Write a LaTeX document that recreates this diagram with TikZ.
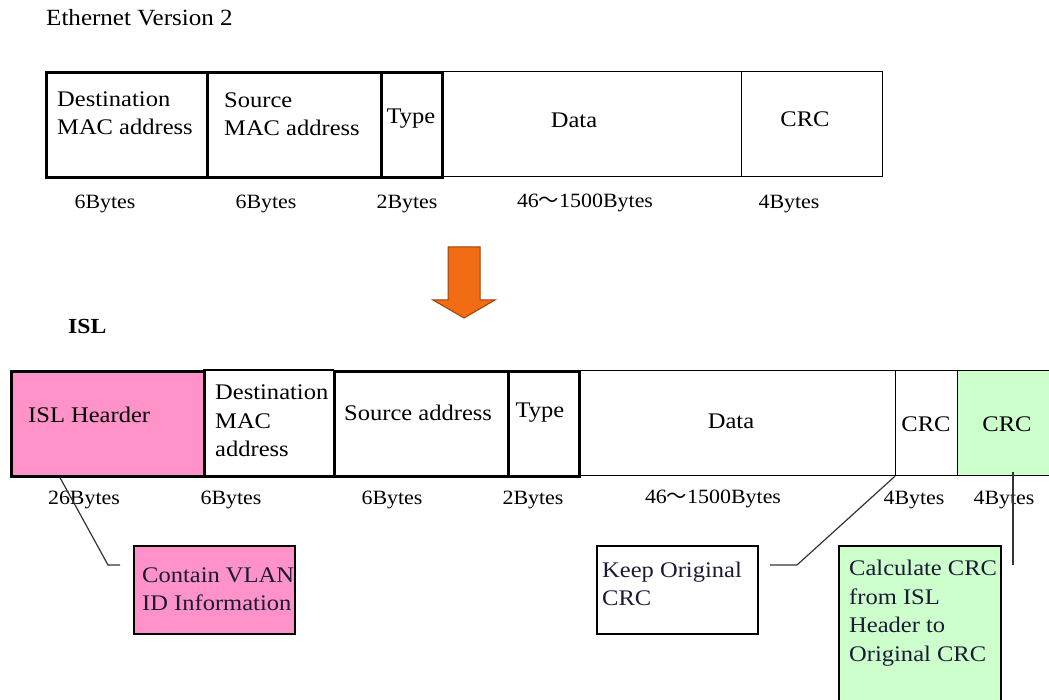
\documentclass[tikz,border=0pt]{standalone}
\usepackage{fontspec}
\setmainfont{Liberation Serif}[FakeStretch=1.1]
\newfontfamily\lblfont{Liberation Serif}[FakeStretch=1.08]
\newfontfamily\cjk{Noto Sans CJK SC}
\definecolor{islpink}{HTML}{FF92C9}
\definecolor{crcgreen}{HTML}{CCFFCC}
\definecolor{arroworange}{HTML}{F26C14}
\definecolor{arrowedge}{HTML}{9A4010}
\definecolor{calltext}{HTML}{1A1A33}
\tikzset{
  field/.style={draw, line width=1.2pt, anchor=north west, inner sep=0pt, minimum height=105pt},
  thickfield/.style={field, line width=2.6pt},
  txt/.style={inner sep=0pt, font=\fontsize{22.3}{28.5}\selectfont, align=left},
  lbl/.style={inner sep=0pt, font=\lblfont\fontsize{20.3}{24}\selectfont},
  callout/.style={draw, line width=1.5pt, anchor=north west, inner sep=0pt, minimum width=161pt, minimum height=88pt},
  lead/.style={line width=1.2pt, draw=black!80}
}
\begin{document}
\begin{tikzpicture}[x=1pt, y=-1pt]
\useasboundingbox (0,0) rectangle (1049,700);
\fill[white] (0,0) rectangle (1049,700);

% title
\node[inner sep=0pt, anchor=west, font=\lblfont\fontsize{23.2}{27}\selectfont] (title) at (46,18) {Ethernet Version 2};

% Ethernet frame
\node[field, minimum width=141pt] (ecrc) at (741,71) {};
\node[field, minimum width=300pt] (edata) at (441,71) {};
\node[thickfield, minimum width=161pt] (edst) at (45,71) {};
\node[thickfield, minimum width=174pt] (esrc) at (206,71) {};
\node[thickfield, minimum width=61pt] (etype) at (380,71) {};

\node[txt, anchor=west] (tdst) at (57,113) {Destination\\MAC address};
\node[txt, anchor=west] (tsrc) at (224,114) {Source\\MAC address};
\node[txt] (ttype) at (411,119) {Type};
\node[txt] (tdata) at (574,120) {Data};
\node[txt] (tcrc) at (805,119) {CRC};

\node[lbl] (l1) at (105,204) {6Bytes};
\node[lbl] (l2) at (266,204) {6Bytes};
\node[lbl] (l3) at (407,204) {2Bytes};
\node[lbl] (l4) at (585,203) {46{\cjk ～}1500Bytes};
\node[lbl] (l5) at (789,204) {4Bytes};

% arrow
\filldraw[fill=arroworange, draw=arrowedge, line width=1pt]
  (448,247) -- (480,247) -- (480,300) -- (495,300) -- (464,318) -- (433,300) -- (448,300) -- cycle;

% ISL
\node[inner sep=0pt, anchor=west, font=\fontsize{21.5}{26}\selectfont\bfseries] (isltitle) at (68,326) {ISL};

\node[field, minimum width=317pt] (idata) at (578,370) {};
\node[field, minimum width=62pt] (icrc1) at (895,370) {};
\node[field, fill=crcgreen, minimum width=100pt] (icrc2) at (957,370) {};
\node[field, minimum width=130pt] (idst) at (203,370) {};
\draw[line width=2.6pt] (idst.north west) -- (idst.north east);
\draw[line width=2.6pt] (idst.south west) -- (idst.south east);
\node[thickfield, fill=islpink, minimum width=193pt] (iisl) at (10,370) {};
\node[thickfield, minimum width=174pt] (isrc) at (333,370) {};
\node[thickfield, minimum width=71pt] (itype) at (507,370) {};

\node[txt, anchor=west] (tisl) at (28,415) {ISL Hearder};
\node[txt, anchor=west] (tidst) at (215,421) {Destination\\MAC\\address};
\node[txt, anchor=west] (tisrc) at (344,413) {Source address};
\node[txt] (titype) at (540,413) {Type};
\node[txt] (tidata) at (731,421) {Data};
\node[txt] (ticrc1) at (926,424) {CRC};
\node[txt] (ticrc2) at (1007,424) {CRC};

\node[lbl] (m1) at (84,500) {26Bytes};
\node[lbl] (m2) at (231,500) {6Bytes};
\node[lbl] (m3) at (392,500) {6Bytes};
\node[lbl] (m4) at (533,500) {2Bytes};
\node[lbl] (m5) at (713,499) {46{\cjk ～}1500Bytes};
\node[lbl] (m6) at (914,500) {4Bytes};
\node[lbl] (m7) at (1004,500) {4Bytes};

% callouts
\node[callout, fill=islpink] (cvlan) at (133,545) {};
\node[txt, anchor=west, text=calltext] (tvlan) at (142,589) {Contain VLAN\\ID Information};
\node[callout] (ckeep) at (596,545) {};
\node[txt, anchor=west, text=calltext] (tkeep) at (602,584) {Keep Original\\CRC};
\node[callout, fill=crcgreen, minimum width=162pt, minimum height=175pt] (ccalc) at (838,545) {};
\node[txt, anchor=west, text=calltext] (tcalc) at (849,613) {Calculate CRC\\from ISL\\Header to\\Original CRC};

% leader lines
\coordinate (a1) at (108,565);
\coordinate (a2) at (120,565);
\coordinate (b1) at (797,565);
\coordinate (b2) at (770,565);
\coordinate (c1) at (1013,472);
\coordinate (c2) at (1013,565);
\draw[lead] ([xshift=50pt]iisl.south west) -- (a1) -- (a2);
\draw[lead] (icrc1.south west) -- (b1) -- (b2);
\draw[lead] (c1) -- (c2);
\end{tikzpicture}
\end{document}
